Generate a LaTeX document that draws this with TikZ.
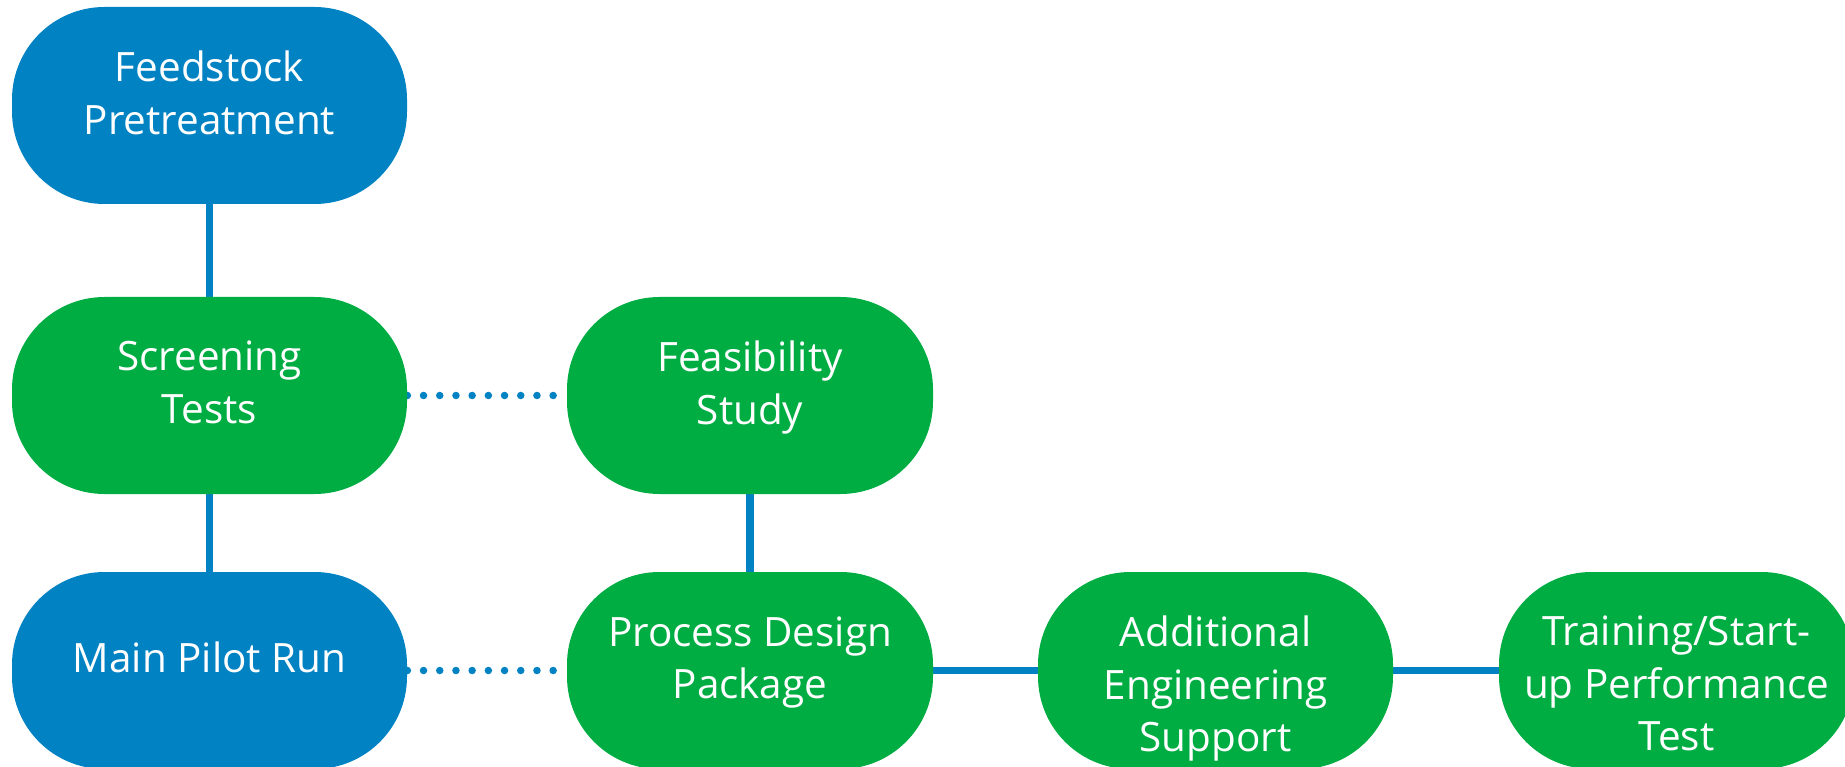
\documentclass[tikz,border=0pt]{standalone}
\usepackage{fontspec}
\setmainfont{Open Sans}
\usetikzlibrary{backgrounds}
\definecolor{stepblue}{RGB}{0,130,195}
\definecolor{stepgreen}{RGB}{0,173,67}
\begin{document}
\begin{tikzpicture}[
  stage/.style={rounded corners=1.85cm, minimum height=3.94cm, inner sep=0pt},
  bluestage/.style={stage, fill=stepblue, minimum width=7.9cm},
  greenstage/.style={stage, fill=stepgreen},
  caption/.style={text=white, align=center, inner sep=0pt, font=\fontsize{23}{30}\selectfont},
  link/.style={draw=stepblue, line width=0.15cm, line cap=round},
  dots/.style={draw=stepblue, line width=0.15cm, line cap=round, dash pattern=on 0pt off 0.324cm}
]
\clip (0,0) rectangle (36.9,-15.34);
\pgfmathsetmacro{\xa}{4.19};
\pgfmathsetmacro{\xb}{15.0};
\pgfmathsetmacro{\ya}{-7.91};
\pgfmathsetmacro{\yb}{-13.41};
\node[bluestage] (feed) at (\xa,-2.11) {};
\node[greenstage, minimum width=7.9cm] (screen) at (\xa,\ya) {};
\node[bluestage] (pilot) at (\xa,\yb) {};
\node[greenstage, minimum width=7.32cm] (feas) at (\xb,\ya) {};
\node[greenstage, minimum width=7.32cm] (design) at (\xb,\yb) {};
\node[greenstage, minimum width=7.1cm] (addl) at (24.31,\yb) {};
\node[greenstage, minimum width=7.1cm] (train) at (33.53,\yb) {};
\node[caption] (feedtxt) at ([yshift=0.26cm]feed.center) {Feedstock\\Pretreatment};
\node[caption] (screentxt) at ([yshift=0.26cm]screen.center) {Screening\\Tests};
\node[caption] (pilottxt) at ([yshift=0.26cm]pilot.center) {Main Pilot Run};
\node[caption] (feastxt) at ([yshift=0.16cm]feas.center) {Feasibility\\Study};
\node[caption] (designtxt) at ([yshift=0.16cm]design.center) {Process Design\\Package};
\node[caption] (addltxt) at ([yshift=-0.36cm]addl.center) {Additional\\Engineering\\Support};
\node[caption] (traintxt) at ([yshift=-0.26cm]train.center) {Training/Start-\\up Performance\\Test};
\begin{scope}[on background layer]
\draw[link] (feed.south) -- (screen.north);
\draw[link] (screen.south) -- (pilot.north);
\draw[link] (feas.south) -- (design.north);
\draw[link] (design.east) -- (addl.west);
\draw[link] (addl.east) -- (train.west);
\draw[dots] (screen.east) -- (feas.west);
\draw[dots] (pilot.east) -- (design.west);
\end{scope}
\end{tikzpicture}
\end{document}
